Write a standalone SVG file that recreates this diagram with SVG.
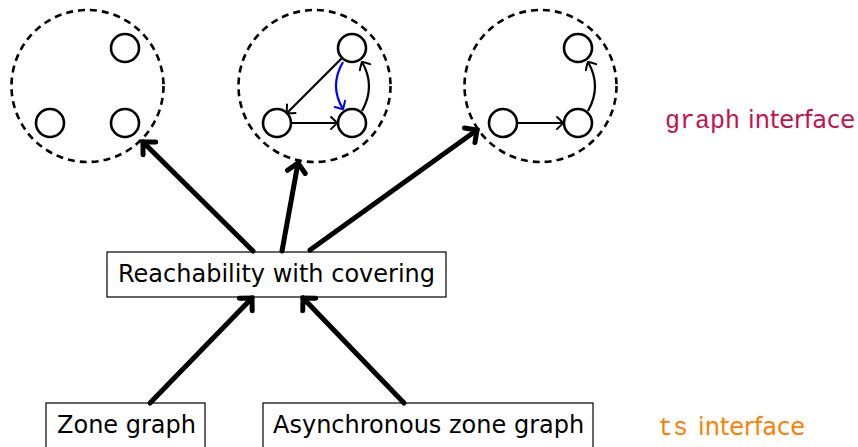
<svg xmlns="http://www.w3.org/2000/svg" width="858" height="447" viewBox="0 0 858 447">
<defs>
<style>
.cl{fill:none;stroke:#000;stroke-width:2.6;stroke-dasharray:7 5}
.nd{fill:#fff;stroke:#000;stroke-width:2.6}
.e{fill:none;stroke:#000;stroke-width:2.2;marker-end:url(#ah)}
.eb{fill:none;stroke:#0000ff;stroke-width:2.2;marker-end:url(#ahb)}
.big{fill:none;stroke:#000;stroke-width:5;stroke-linecap:round;marker-end:url(#ahB)}
.box{fill:#fff;stroke:#000;stroke-width:1.2}
.t{font-family:"DejaVu Sans",sans-serif;font-size:24px;fill:#000}
.mono{font-family:"Liberation Mono",monospace;font-size:25px}
</style>
<marker id="ah" markerUnits="userSpaceOnUse" viewBox="-8 -8 10 16" refX="0" refY="0" markerWidth="10" markerHeight="16" orient="auto" overflow="visible">
<path d="M-6,-6 Q-1,-1.5 0,0 Q-1,1.5 -6,6" fill="none" stroke="#000" stroke-width="2" stroke-linecap="round"/>
</marker>
<marker id="ahb" markerUnits="userSpaceOnUse" viewBox="-8 -8 10 16" refX="0" refY="0" markerWidth="10" markerHeight="16" orient="auto" overflow="visible">
<path d="M-6,-6 Q-1,-1.5 0,0 Q-1,1.5 -6,6" fill="none" stroke="#0000ff" stroke-width="2" stroke-linecap="round"/>
</marker>
<marker id="ahB" markerUnits="userSpaceOnUse" viewBox="-12 -12 14 24" refX="0" refY="0" markerWidth="14" markerHeight="24" orient="auto" overflow="visible">
<path d="M-9,-9 Q-2,-2 0,0 Q-2,2 -9,9" fill="none" stroke="#000" stroke-width="5" stroke-linecap="round"/>
</marker>
</defs>

<g id="cluster1">
<circle class="cl" cx="87.5" cy="86" r="76"/>
<circle class="nd" cx="125" cy="48" r="14"/>
<circle class="nd" cx="50" cy="123" r="14"/>
<circle class="nd" cx="125" cy="123" r="14"/>
</g>

<g id="cluster2">
<circle class="cl" cx="314.5" cy="86" r="76"/>
<circle class="nd" cx="352" cy="48" r="14"/>
<circle class="nd" cx="277" cy="123" r="14"/>
<circle class="nd" cx="352" cy="123" r="14"/>
</g>

<g id="cluster3">
<circle class="cl" cx="540.5" cy="86" r="76"/>
<circle class="nd" cx="578" cy="48" r="14"/>
<circle class="nd" cx="503" cy="123" r="14"/>
<circle class="nd" cx="578" cy="123" r="14"/>
</g>

<g id="reach">
<rect class="box" x="107" y="252" width="339" height="45"/>
<text class="t" x="118" y="282">Reachability with covering</text>
</g>

<g id="zone">
<rect class="box" x="46" y="403" width="159" height="50"/>
<text class="t" x="57" y="433">Zone graph</text>
</g>

<g id="async">
<rect class="box" x="263" y="403" width="330" height="50"/>
<text class="t" x="273" y="433">Asynchronous zone graph</text>
</g>

<g id="labels">
<text class="t" y="128" style="fill:#c8104e"><tspan class="mono" x="665">graph</tspan><tspan x="748">interface</tspan></text>
<text class="t" y="435" style="fill:#ff8000"><tspan class="mono" x="658">ts</tspan><tspan x="698">interface</tspan></text>
</g>

<g id="connectors">
<path class="e" d="M342,58 L287,113"/>
<path class="e" d="M291,123 L337,123"/>
<path class="e" d="M362,111 Q376,86 362,62"/>
<path class="eb" d="M343,62 Q329,86 343,109"/>
<path class="e" d="M517,123 L563,123"/>
<path class="e" d="M588,111 Q602,86 588,62"/>
<path class="big" d="M253,251 L143,142"/>
<path class="big" d="M282,251 L298,163"/>
<path class="big" d="M310,250 L477,130"/>
<path class="big" d="M150,403 L252,298"/>
<path class="big" d="M404,403 L303,298"/>
</g>
</svg>
